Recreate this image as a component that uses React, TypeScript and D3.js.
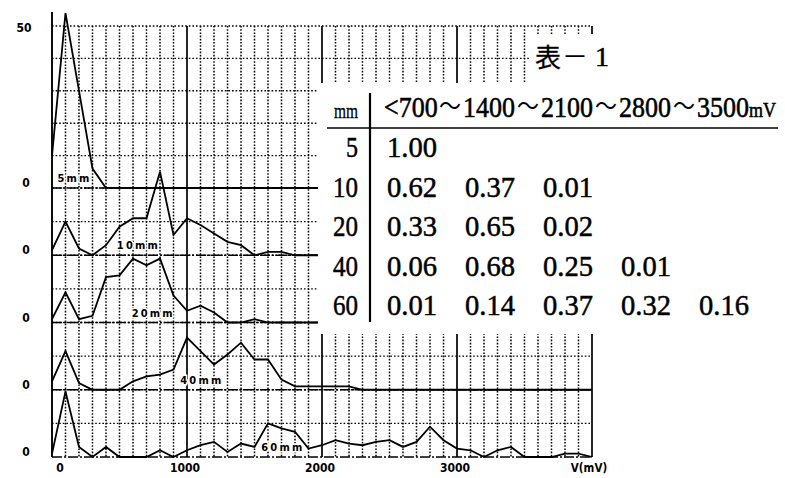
import React from "react";
import * as d3 from "d3";

// ---- data ----
const stepMV = 100; // sampling step of the histograms (mV)
const panelNames = ["5mm", "10mm", "20mm", "40mm", "60mm"];
const series5 = [10, 54, 30, 6, 0, 0, 0, 0, 0, 0, 0, 0, 0, 0, 0, 0, 0, 0, 0, 0, 0];
const series10 = [1.5, 10, 2, 0, 3, 8.5, 11, 11, 25, 6, 11, 9, 6.5, 4, 3, 0, 1, 1, 0, 0, 0];
const series20 = [1, 9, 1, 2, 13.5, 14, 19, 17, 19, 8, 3.5, 5, 3, 0, 0, 1, 0, 0, 0, 0, 0];
const series40 = [
  2.5, 11.5, 2, 0, 0, 0, 2.5, 4, 4.5, 6, 15.5, 11.5, 7.5, 10.5, 14, 9, 9, 3, 1, 1, 1, 1, 1, 0,
  0, 0, 0, 0, 0, 0, 0, 0, 0, 0, 0, 0, 0, 0, 0, 0, 0,
];
const series60 = [
  1, 19.5, 3, 0, 3, 0, 0, 0, 2, 0, 2, 3.5, 4.5, 1.5, 4, 3, 10, 8.5, 7.5, 2.5, 3.5, 5, 4, 3.5,
  4.5, 5, 3, 4.5, 9, 5, 2.5, 2, 0, 2, 3, 0, 0, 0, 1, 1, 0,
];
const panelSeries = [series5, series10, series20, series40, series60];
const panelOffsets = [80, 60, 40, 20, 0]; // stacked value units
const panelTops = [50, 20, 20, 20, 20];
const panelLabelMV = [40, 480, 590, 950, 1550];
const xTicks = [0, 1000, 2000, 3000];
const xMax = 4000;
const xUnit = "V(mV)";

const tableTitle = ["表", "－", "1"];
const tableUnit = "mm";
const tableBins = ["<700", "～", "1400", "～", "2100", "～", "2800", "～", "3500", "mV"];
const tableRows = ["5", "10", "20", "40", "60"];
const tableValues = [
  ["1.00"],
  ["0.62", "0.37", "0.01"],
  ["0.33", "0.65", "0.02"],
  ["0.06", "0.68", "0.25", "0.01"],
  ["0.01", "0.14", "0.37", "0.32", "0.16"],
];

// ---- layout ----
const W = 785;
const H = 478;
const half = 13; // half-width character cell of the table text
const units = (s: string) =>
  Array.from(s).reduce((a, c) => a + (c.charCodeAt(0) > 0xff ? 2 : 1), 0);

export default function App() {
  const x = d3.scaleLinear().domain([0, xMax]).range([52, 592]);
  const y = d3.scaleLinear().domain([0, 80, 130]).range([457, 188, 26]);
  const yTop = y(130);
  const yBot = y(0);

  const vLines = d3.range(stepMV, xMax + 1, stepMV);
  const hGrid: number[] = [];
  panelOffsets.forEach((off, i) => {
    for (let v = 10; v <= panelTops[i]; v += 10) hGrid.push(off + v);
  });

  const line = (off: number) =>
    d3
      .line<number>()
      .x((_, i) => x(i * stepMV))
      .y((v) => y(off + v));

  const serif = "'Liberation Serif', 'Noto Sans CJK JP', serif";
  const cjk = "'Noto Sans CJK JP', 'Liberation Serif', serif";
  const axisFont = "'DejaVu Sans Condensed', 'DejaVu Sans', sans-serif";

  const valueStart = 385;
  const rowBase0 = 157;
  const rowStep = 39.5;
  const fs = 29;
  const headerBase = 117;
  const textStroke = { stroke: "#000", strokeWidth: 0.5 };

  // header tokens positions
  let cursor = valueStart;
  const headerTokens = tableBins.map((t) => {
    const u = units(t);
    const item = { t, x: cursor, w: u * half };
    cursor += u * half;
    return item;
  });

  return (
    <svg
      width={W}
      height={H}
      style={{ position: "absolute", left: 0, top: 0, background: "#fff" }}
    >
      <rect x={0} y={0} width={W} height={H} fill="#fff" />

      {/* vertical grid */}
      {vLines.map((mv) => {
        const solid = mv % 1000 === 0;
        return (
          <line
            key={"v" + mv}
            x1={x(mv)}
            x2={x(mv)}
            y1={yTop}
            y2={yBot}
            stroke="#000"
            strokeWidth={solid ? 1.7 : 1.5}
            strokeDasharray={solid ? undefined : "1.6,1.6"}
          />
        );
      })}

      {/* horizontal grid */}
      {hGrid.map((v) => (
        <line
          key={"h" + v}
          x1={x(0)}
          x2={x(xMax)}
          y1={y(v)}
          y2={y(v)}
          stroke="#000"
          strokeWidth={1.4}
          strokeDasharray="1.6,2"
        />
      ))}

      {/* baselines */}
      {panelOffsets.map((off) => (
        <line
          key={"b" + off}
          x1={x(0)}
          x2={x(xMax)}
          y1={y(off)}
          y2={y(off)}
          stroke="#000"
          strokeWidth={1.6}
          strokeDasharray="10,2,2,2"
        />
      ))}

      {/* left axis */}
      <line
        x1={x(0)}
        x2={x(0)}
        y1={y(80 + (d3.max(series5) as number)) - 1}
        y2={yBot}
        stroke="#000"
        strokeWidth={1.9}
      />

      {/* series */}
      {panelSeries.map((s, i) => (
        <path
          key={"s" + i}
          d={line(panelOffsets[i])(s) || ""}
          fill="none"
          stroke="#000"
          strokeWidth={1.8}
          strokeLinejoin="miter"
        />
      ))}

      {/* panel labels */}
      {panelNames.map((n, i) => (
        <text
          key={"pl" + n}
          x={x(panelLabelMV[i])}
          y={y(panelOffsets[i]) - 6}
          fontFamily={axisFont}
          fontWeight="bold"
          fontSize={11}
          letterSpacing={2.2}
          fill="#000"
          stroke="#fff"
          strokeWidth={3}
          paintOrder="stroke"
        >
          {n}
        </text>
      ))}

      {/* masks for the table */}
      <rect x={318} y={83} width={W - 318} height={334 - 83} fill="#fff" />
      <rect x={530} y={34} width={W - 530} height={83 - 34} fill="#fff" />

      {/* y labels */}
      <text
        x={24}
        y={y(130) + 6}
        textAnchor="middle"
        fontFamily={axisFont}
        fontWeight="bold"
        fontSize={12}
      >
        50
      </text>
      {panelOffsets.map((off) => (
        <text
          key={"yl" + off}
          x={26}
          y={y(off) - 1}
          textAnchor="middle"
          fontFamily={axisFont}
          fontWeight="bold"
          fontSize={12}
        >
          0
        </text>
      ))}

      {/* x labels */}
      {xTicks.map((t) => (
        <text
          key={"xt" + t}
          x={x(t) + (t === 0 ? 8 : -2)}
          y={472}
          textAnchor="middle"
          fontFamily={axisFont}
          fontWeight="bold"
          fontSize={12}
        >
          {t}
        </text>
      ))}
      <text
        x={x(xMax) - 3}
        y={472}
        textAnchor="middle"
        fontFamily={axisFont}
        fontWeight="bold"
        fontSize={11.5}
      >
        {xUnit}
      </text>

      {/* table title */}
      <text x={535} y={67} fontFamily={cjk} fontSize={26} {...textStroke} strokeWidth={0.3}>
        {tableTitle[0]}
      </text>
      <text x={562} y={66} fontFamily={cjk} fontSize={26}>
        {tableTitle[1]}
      </text>
      <text x={595} y={66} fontFamily={serif} fontSize={28} {...textStroke}>
        {tableTitle[2]}
      </text>

      {/* table header */}
      <text
        x={358}
        y={118}
        textAnchor="end"
        fontFamily={serif}
        fontSize={22}
        textLength={units(tableUnit) * half - 2}
        lengthAdjust="spacingAndGlyphs"
        {...textStroke}
        strokeWidth={0.3}
      >
        {tableUnit}
      </text>
      <g
        transform={`translate(0,${headerBase}) scale(1,1.12) translate(0,${-headerBase})`}
      >
        {headerTokens.map((tk, i) => {
          if (tk.t === "～")
            return (
              <text
                key={"ht" + i}
                x={tk.x + 2}
                y={headerBase - 2}
                fontFamily={cjk}
                fontSize={22}
              >
                {tk.t}
              </text>
            );
          const isUnit = /[a-zA-Z]/.test(tk.t);
          return (
            <text
              key={"ht" + i}
              x={tk.x + (tk.t.startsWith("<") ? -1 : 0)}
              y={headerBase}
              fontFamily={serif}
              fontSize={isUnit ? 18 : 26}
              {...textStroke}
            >
              {tk.t}
            </text>
          );
        })}
      </g>
      <line x1={327} x2={778} y1={128} y2={128} stroke="#000" strokeWidth={1.6} />
      <line x1={370} x2={370} y1={93} y2={322} stroke="#000" strokeWidth={2.2} />

      {/* table rows */}
      {tableRows.map((r, ri) => (
        <g key={"row" + r}>
          <text
            x={358}
            y={rowBase0 + ri * rowStep}
            textAnchor="end"
            fontFamily={serif}
            fontSize={fs}
            textLength={units(r) * half - 1}
            lengthAdjust="spacingAndGlyphs"
            {...textStroke}
          >
            {r}
          </text>
          {tableValues[ri].map((v, ci) => (
            <text
              key={"c" + ci}
              x={valueStart + 2 + ci * 6 * half}
              y={rowBase0 + ri * rowStep}
              fontFamily={serif}
              fontSize={fs}
              textLength={units(v) * half - 2}
              lengthAdjust="spacingAndGlyphs"
              {...textStroke}
            >
              {v}
            </text>
          ))}
        </g>
      ))}
    </svg>
  );
}
